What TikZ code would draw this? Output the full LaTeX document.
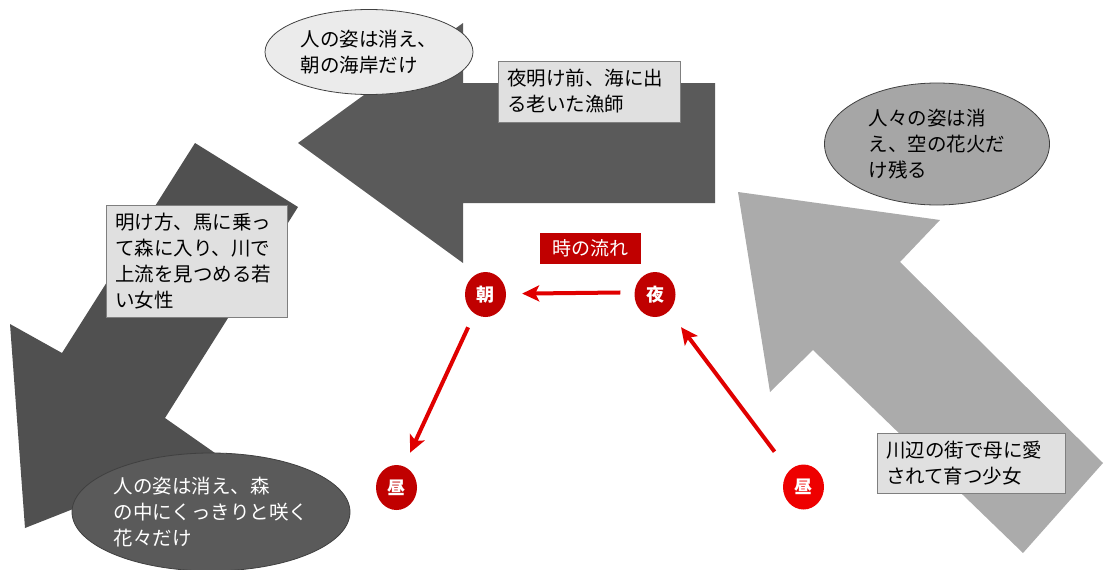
\documentclass[tikz,border=0pt]{standalone}
\usepackage{fontspec}
\setmainfont{Noto Sans CJK JP}
\usetikzlibrary{arrows.meta,shapes.geometric}
\definecolor{arrowTop}{HTML}{5A5A5A}
\definecolor{arrowLeft}{HTML}{505050}
\definecolor{arrowRight}{HTML}{ABABAB}
\definecolor{rectFill}{HTML}{E0E0E0}
\definecolor{rectLine}{HTML}{7F7F7F}
\definecolor{ellLight}{HTML}{EBEBEB}
\definecolor{ellMid}{HTML}{A6A6A6}
\definecolor{ellDark}{HTML}{5A5A5A}
\definecolor{ellLine}{HTML}{404040}
\definecolor{dred}{HTML}{C00000}
\definecolor{bred}{HTML}{EE0000}
\definecolor{redline}{HTML}{E00000}
\begin{document}
\begin{tikzpicture}[x=1pt,y=-1pt,
  txt/.style={font=\fontsize{19.5}{26}\selectfont, align=left},
  rbox/.style={txt, rectangle, draw=rectLine, line width=0.8pt, fill=rectFill, inner xsep=9pt, inner ysep=0pt},
  ebox/.style={txt, ellipse, draw=ellLine, line width=0.8pt, inner sep=0pt},
  circ/.style={ellipse, fill=dred, minimum width=41pt, minimum height=45pt, inner sep=0pt, text=white, font=\fontsize{18}{18}\selectfont\bfseries},
  rarrow/.style={draw=redline, line width=4pt, -{Stealth[length=17pt,width=16pt,inset=4pt]}}
]
\useasboundingbox (0,0) rectangle (1104,570);

% big block arrows
\fill[arrowTop] (298,143) -- (463,23) -- (463,83) -- (715,83) -- (715,203) -- (463,203) -- (463,263) -- cycle;
\fill[arrowLeft] (195,143) -- (298,207) -- (165,418) -- (215,453) -- (25,528) -- (10,324) -- (62,353) -- cycle;
\fill[arrowRight] (738,192) -- (940,220) -- (900,262) -- (1103,463) -- (1023,553) -- (813,350) -- (770,392) -- cycle;

% text boxes
\node[ebox, fill=ellLight, minimum width=208pt, minimum height=85pt] (e1) at (369,52) {人の姿は消え、\\朝の海岸だけ};
\node[rbox, text width=164pt, minimum height=61pt] (r1) at (589,91.5) {夜明け前、海に出\\る老いた漁師};
\node[ebox, fill=ellMid, minimum width=225pt, minimum height=122pt] (e2) at (937,144) {人々の姿は消\\え、空の花火だ\\け残る};
\node[rbox, text width=163pt, minimum height=112pt] (r2) at (196.5,261) {明け方、馬に乗っ\\て森に入り、川で\\上流を見つめる若\\い女性};
\node[ebox, fill=ellDark, text=white, minimum width=278pt, minimum height=118pt] (e3) at (211,512) {人の姿は消え、森\\の中にくっきりと咲く\\花々だけ};
\node[rbox, text width=170pt, minimum height=60pt] (r3) at (971,463) {川辺の街で母に愛\\されて育つ少女};

% time flow
\node[rectangle, fill=dred, text=white, font=\fontsize{19}{19}\selectfont, minimum width=101pt, minimum height=31pt, inner sep=0pt] (flow) at (590.5,248.5) {時の流れ};
\node[circ] (asa) at (485.5,294.5) {朝};
\node[circ] (yoru) at (655,294.5) {夜};
\node[circ] (hiruL) at (396.5,487.5) {昼};
\node[circ, fill=bred] (hiruR) at (803.5,487) {昼};

\draw[rarrow, shorten <=14pt, shorten >=16pt] (yoru.174) -- (asa.2);
\draw[rarrow, shorten <=15pt, shorten >=15pt] (asa.-120) -- (hiruL.71);
\draw[rarrow, shorten <=24pt, shorten >=20pt] (hiruR.132) -- (yoru.-50);
\end{tikzpicture}
\end{document}
